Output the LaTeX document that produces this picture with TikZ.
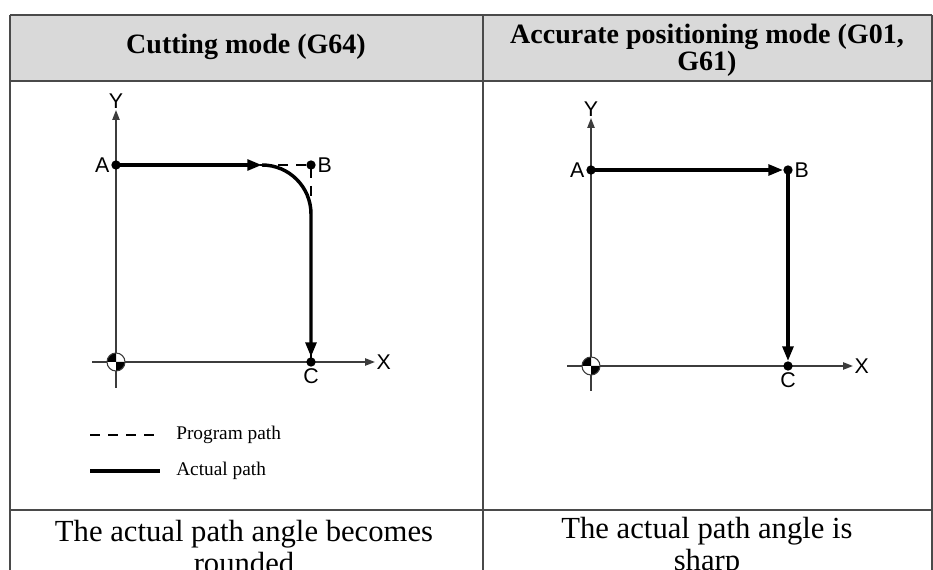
\documentclass[tikz,border=0pt]{standalone}
\usepackage{fontspec}
\setmainfont{Liberation Serif}
\setsansfont{Liberation Sans}
\usetikzlibrary{arrows.meta}
\definecolor{headgray}{HTML}{D9D9D9}
\definecolor{rulegray}{HTML}{4A4A4A}
\definecolor{axisgray}{HTML}{3C3C3C}
\tikzset{
  rule/.style={draw=rulegray, line width=1.2pt},
  head/.style={font=\fontsize{21pt}{20pt}\selectfont\bfseries, align=center},
  caption/.style={font=\fontsize{23pt}{23.5pt}\selectfont, align=center},
  axis/.style={draw=axisgray, line width=1.1pt, -{Triangle[length=7.5pt, width=5.5pt]}},
  actual/.style={draw=black, line width=2.6pt},
  actualarrow/.style={actual, -{Triangle[length=11pt, width=8pt]}},
  program/.style={draw=black, line width=1.1pt, dash pattern=on 7.5pt off 6pt},
  dot/.style={circle, fill=black, inner sep=0pt, minimum size=7pt},
  lbl/.style={font=\sffamily\fontsize{16pt}{16pt}\selectfont, inner sep=1pt},
  legend/.style={font=\fontsize{14.5pt}{15pt}\selectfont, anchor=west, inner xsep=12pt}
}
\newcommand\datummark[1]{%
  \fill[white] (#1) circle[radius=9];
  \fill[black] (#1) -- ++(-9,0) arc[start angle=180, end angle=270, radius=9] -- cycle;
  \fill[black] (#1) -- ++(9,0) arc[start angle=0, end angle=90, radius=9] -- cycle;
  \draw[axisgray, line width=0.8pt] (#1) circle[radius=9];
}

\begin{document}
\begin{tikzpicture}[x=0.75pt, y=-0.75pt]
  \useasboundingbox (0,0) rectangle (933,570);

  % Tabla
  \fill[headgray] (10,15) rectangle (932,81);
  \draw[rule] (10,15) -- (932,15);
  \draw[rule] (10,81) -- (932,81);
  \draw[rule] (10,510) -- (932,510);
  \draw[rule] (10,15) -- (10,570);
  \draw[rule] (483,15) -- (483,570);
  \draw[rule] (932,15) -- (932,570);

  \node[head] (h1) at (246,47) {Cutting mode (G64)};
  \node[head] (h2) at (707,50) {Accurate positioning mode (G01,\\G61)};
  \node[caption] (c1) at (244,547) {The actual path angle becomes\\rounded};
  \node[caption] (c2) at (707,547) {The actual path angle is\\sharp};

  % Modo de corte (G64)
  \coordinate (O1) at (116,362);
  \coordinate (xs1) at (92,362);
  \coordinate (xe1) at (375,362);
  \coordinate (ys1) at (116,388);
  \coordinate (ye1) at (116,110);
  \draw[axis] (xs1) -- (xe1);
  \draw[axis] (ys1) -- (ye1);
  \node[lbl, right] (X1) at (xe1) {X};
  \node[lbl, above] (Y1) at (ye1) {Y};
  \datummark{O1}

  \node[dot] (A1) at (116,165) {};
  \node[dot] (B1) at (311,165) {};
  \node[dot] (C1) at (311,362) {};
  \coordinate (R1) at (262,165);
  \node[lbl, left] at (A1.west) {A};
  \node[lbl, right] at (B1.east) {B};
  \node[lbl, below] at (C1.south) {C};

  % Trayectoria programada
  \draw[program] (A1.center) -- (B1.center) -- (C1.center);
  % Trayectoria real
  \draw[actualarrow] (A1.center) -- (R1);
  \draw[actualarrow, rounded corners=36.75pt] (R1) -- (B1.center) -- (C1);

  % Leyenda
  \coordinate (lg1) at (90,435);
  \coordinate (lg2) at (90,471);
  \node[legend] (prog) at (160,435) {Program path};
  \node[legend] (real) at (160,471) {Actual path};
  \draw[program, line width=2.2pt] (lg1) -- (prog.west);
  \draw[actual, line width=3pt] (lg2) -- (real.west);

  % Posicionamiento exacto (G01, G61)
  \coordinate (O2) at (591,366);
  \coordinate (xs2) at (567,366);
  \coordinate (xe2) at (853,366);
  \coordinate (ys2) at (591,391);
  \coordinate (ye2) at (591,118);
  \draw[axis] (xs2) -- (xe2);
  \draw[axis] (ys2) -- (ye2);
  \node[lbl, right] (X2) at (xe2) {X};
  \node[lbl, above] (Y2) at (ye2) {Y};
  \datummark{O2}

  \node[dot] (A2) at (591,170) {};
  \node[dot] (B2) at (788,170) {};
  \node[dot] (C2) at (788,366) {};
  \node[lbl, left] at (A2.west) {A};
  \node[lbl, right] at (B2.east) {B};
  \node[lbl, below] at (C2.south) {C};

  \draw[actualarrow] (A2.center) -- (B2);
  \draw[actualarrow] (B2.center) -- (C2);
\end{tikzpicture}
\end{document}
